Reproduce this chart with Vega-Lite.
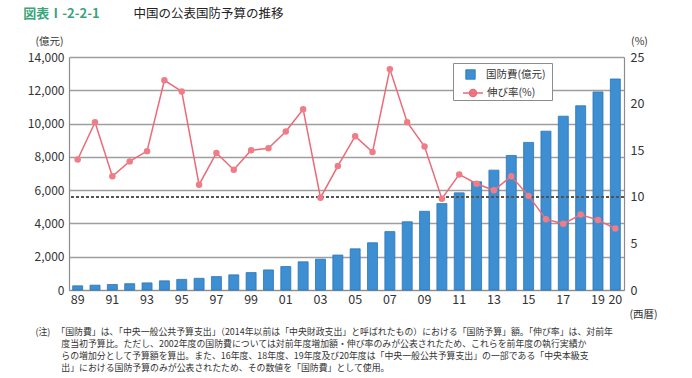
{
  "$schema": "https://vega.github.io/schema/vega-lite/v6.json",
  "width": 555,
  "height": 233,
  "autosize": {"type": "none"},
  "padding": {"left": 69, "top": 57, "right": 68, "bottom": 88},
  "background": "white",
  "config": {
    "view": {"stroke": null},
    "font": "Noto Sans CJK JP",
    "axis": {"labelFont": "Noto Sans CJK JP", "titleFont": "Noto Sans CJK JP"},
    "legend": {"labelFont": "Noto Sans CJK JP", "titleFont": "Noto Sans CJK JP"}
  },
  "data": {
    "values": [
      {"year": 1989, "budget": 251, "rate": 14.0},
      {"year": 1990, "budget": 290, "rate": 18.0},
      {"year": 1991, "budget": 330, "rate": 12.2},
      {"year": 1992, "budget": 378, "rate": 13.8},
      {"year": 1993, "budget": 426, "rate": 14.9},
      {"year": 1994, "budget": 551, "rate": 22.5},
      {"year": 1995, "budget": 637, "rate": 21.3},
      {"year": 1996, "budget": 702, "rate": 11.3},
      {"year": 1997, "budget": 806, "rate": 14.7},
      {"year": 1998, "budget": 910, "rate": 12.9},
      {"year": 1999, "budget": 1047, "rate": 15.0},
      {"year": 2000, "budget": 1205, "rate": 15.2},
      {"year": 2001, "budget": 1410, "rate": 17.0},
      {"year": 2002, "budget": 1694, "rate": 19.4},
      {"year": 2003, "budget": 1853, "rate": 9.9},
      {"year": 2004, "budget": 2100, "rate": 13.3},
      {"year": 2005, "budget": 2475, "rate": 16.5},
      {"year": 2006, "budget": 2838, "rate": 14.8},
      {"year": 2007, "budget": 3509, "rate": 23.7},
      {"year": 2008, "budget": 4099, "rate": 18.0},
      {"year": 2009, "budget": 4729, "rate": 15.4},
      {"year": 2010, "budget": 5191, "rate": 9.8},
      {"year": 2011, "budget": 5836, "rate": 12.4},
      {"year": 2012, "budget": 6503, "rate": 11.4},
      {"year": 2013, "budget": 7202, "rate": 10.7},
      {"year": 2014, "budget": 8082, "rate": 12.2},
      {"year": 2015, "budget": 8869, "rate": 10.1},
      {"year": 2016, "budget": 9544, "rate": 7.6},
      {"year": 2017, "budget": 10444, "rate": 7.1},
      {"year": 2018, "budget": 11070, "rate": 8.1},
      {"year": 2019, "budget": 11899, "rate": 7.5},
      {"year": 2020, "budget": 12680, "rate": 6.6}
    ]
  },
  "layer": [
    {
      "mark": {"type": "bar", "size": 10, "stroke": "#2a76bb", "strokeWidth": 0.8},
      "encoding": {
        "x": {
          "field": "year",
          "type": "ordinal",
          "scale": {"paddingInner": 0.4, "paddingOuter": 0.2},
          "axis": {
            "orient": "bottom",
            "labelExpr": "(datum.value % 2 == 1 || datum.value == 2020) ? substring(datum.label, 2, 4) : ''",
            "labelAngle": 0,
            "labelFontSize": 12.5,
            "labelColor": "#333333",
            "labelPadding": 3,
            "ticks": false,
            "domain": true,
            "domainColor": "#8c8c8c",
            "domainWidth": 1.2,
            "grid": false,
            "title": [
              "(注)\u00a0\u00a0\u00a0「国防費」は、「中央一般公共予算支出」（2014年以前は「中央財政支出」と呼ばれたもの）における「国防予算」額。「伸び率」は、対前年",
              "\u200b\u00a0\u00a0\u00a0\u00a0\u00a0\u00a0\u00a0\u00a0\u00a0\u00a0\u00a0\u00a0\u00a0度当初予算比。ただし、2002年度の国防費については対前年度増加額・伸び率のみが公表されたため、これらを前年度の執行実績か",
              "\u200b\u00a0\u00a0\u00a0\u00a0\u00a0\u00a0\u00a0\u00a0\u00a0\u00a0\u00a0\u00a0\u00a0らの増加分として予算額を算出。また、16年度、18年度、19年度及び20年度は「中央一般公共予算支出」の一部である「中央本級支",
              "\u200b\u00a0\u00a0\u00a0\u00a0\u00a0\u00a0\u00a0\u00a0\u00a0\u00a0\u00a0\u00a0\u00a0出」における国防予算のみが公表されたため、その数値を「国防費」として使用。"
            ],
            "titleFontSize": 8.9,
            "titleFontWeight": "normal",
            "titleColor": "#333333",
            "titleAnchor": "start",
            "titleAlign": "left",
            "titleBaseline": "top",
            "titleLineHeight": 12.3,
            "titleX": -34,
            "titleY": 37
          }
        },
        "y": {
          "field": "budget",
          "type": "quantitative",
          "scale": {"domain": [0, 14000]},
          "axis": {
            "orient": "left",
            "values": [0, 2000, 4000, 6000, 8000, 10000, 12000, 14000],
            "format": ",d",
            "labelFontSize": 12,
            "labelColor": "#333333",
            "labelPadding": 5,
            "ticks": false,
            "domain": true,
            "domainColor": "#8c8c8c",
            "domainWidth": 1.2,
            "grid": true,
            "gridColor": "#9e9e9e",
            "gridWidth": 1.3,
            "title": "(億元)",
            "titleAngle": 0,
            "titleFontSize": 10.5,
            "titleFontWeight": "normal",
            "titleColor": "#333333",
            "titleAlign": "center",
            "titleBaseline": "middle",
            "titleX": -20,
            "titleY": -16
          }
        },
        "fill": {
          "datum": "国防費(億元)",
          "scale": {"range": ["#3d8fd1"]},
          "legend": {
            "orient": "none",
            "legendX": 384,
            "legendY": 6,
            "zindex": 1,
            "title": "　",
            "titleOrient": "bottom",
            "titleFontSize": 11,
            "titlePadding": 2,
            "padding": 6,
            "strokeColor": "#8c8c8c",
            "fillColor": "white",
            "labelFontSize": 10.5,
            "labelColor": "#333333",
            "labelOffset": 10,
            "symbolOffset": 6,
            "symbolType": "square",
            "symbolSize": 90,
            "symbolStrokeColor": "#2a76bb",
            "symbolStrokeWidth": 0.8
          }
        }
      }
    },
    {
      "mark": {"type": "rule", "strokeDash": [3, 2], "color": "#555555", "strokeWidth": 1},
      "encoding": {
        "y": {"datum": 10, "type": "quantitative", "scale": {"domain": [0, 25]}, "axis": null}
      }
    },
    {
      "mark": {"type": "line", "strokeWidth": 1.5},
      "encoding": {
        "x": {
          "field": "year",
          "type": "ordinal",
          "axis": {
            "orient": "bottom",
            "labels": false,
            "ticks": false,
            "domain": false,
            "grid": false,
            "title": "(西暦)",
            "titleFontSize": 10.5,
            "titleFontWeight": "normal",
            "titleColor": "#333333",
            "titleAlign": "center",
            "titleBaseline": "middle",
            "titleAnchor": "start",
            "titleX": 574,
            "titleY": 24
          }
        },
        "y": {
          "field": "rate",
          "type": "quantitative",
          "scale": {"domain": [0, 25]},
          "axis": {
            "orient": "right",
            "values": [0, 5, 10, 15, 20, 25],
            "labelFontSize": 12.5,
            "labelColor": "#333333",
            "labelPadding": 6,
            "ticks": false,
            "domain": true,
            "domainColor": "#8c8c8c",
            "domainWidth": 1.2,
            "grid": false,
            "title": "(%)",
            "titleAngle": 0,
            "titleFontSize": 10.5,
            "titleFontWeight": "normal",
            "titleColor": "#333333",
            "titleAlign": "center",
            "titleBaseline": "middle",
            "titleX": 15,
            "titleY": -16
          }
        },
        "stroke": {
          "datum": "伸び率(%)",
          "scale": {"range": ["#ec6a77"]},
          "legend": {
            "orient": "none",
            "legendX": 393,
            "legendY": 25,
            "zindex": 2,
            "title": null,
            "padding": 0,
            "labelFontSize": 10.5,
            "labelColor": "#333333",
            "labelOffset": 3,
            "symbolType": "M-1,0L1,0M0.35,0A0.35,0.35,0,1,1,-0.35,0A0.35,0.35,0,1,1,0.35,0Z",
            "symbolSize": 400,
            "symbolStrokeWidth": 1.5,
            "symbolFillColor": "#ef7d87"
          }
        }
      }
    },
    {
      "mark": {"type": "circle", "size": 42, "color": "#ef7d87", "opacity": 1},
      "encoding": {
        "x": {
          "field": "year",
          "type": "ordinal",
          "axis": {
            "orient": "top",
            "labels": false,
            "ticks": false,
            "domain": false,
            "grid": false,
            "title": "中国の公表国防予算の推移",
            "titleFontSize": 12.5,
            "titleFontWeight": "normal",
            "titleColor": "#222222",
            "titleAlign": "left",
            "titleBaseline": "middle",
            "titleAnchor": "start",
            "titleX": 64,
            "titleY": -43.5
          }
        },
        "y": {
          "field": "rate",
          "type": "quantitative",
          "scale": {"domain": [0, 25]},
          "axis": {
            "orient": "left",
            "labels": false,
            "ticks": false,
            "domain": false,
            "grid": false,
            "title": "図表Ⅰ-2-2-1",
            "titleAngle": 0,
            "titleFontSize": 13,
            "titleFontWeight": "bold",
            "titleColor": "#3aa57a",
            "titleAlign": "center",
            "titleBaseline": "middle",
            "titleX": -8,
            "titleY": -43.5
          }
        }
      }
    }
  ],
  "resolve": {"scale": {"y": "independent"}, "axis": {"x": "independent", "y": "independent"}}
}
